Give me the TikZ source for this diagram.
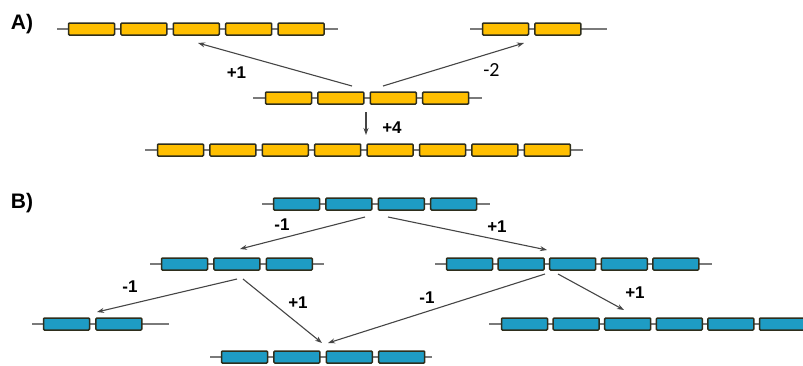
\documentclass[tikz,border=0pt]{standalone}
\usepackage{fontspec}
\setmainfont{Liberation Sans}
\newfontfamily\calib{Carlito}
\usetikzlibrary{arrows.meta}
\definecolor{geneorange}{HTML}{FFBF00}
\definecolor{geneblue}{HTML}{1E9CC4}
\definecolor{geneedge}{HTML}{2E2E1C}
\definecolor{linkgray}{HTML}{7A7A7A}
\definecolor{arrowgray}{HTML}{454545}
\tikzset{
  gene/.style={draw=geneedge, line width=1.5pt, rounded corners=1pt,
    minimum width=46pt, minimum height=12pt, inner sep=0pt},
  linkline/.style={draw=linkgray, line width=1.2pt},
  evo/.style={draw=arrowgray, line width=1.1pt,
    -{Stealth[length=7pt,width=5pt]}},
  lbl/.style={font=\fontsize{17}{17}\selectfont\bfseries, text=black, inner sep=0pt},
  lblc/.style={font=\calib\fontsize{20}{20}\selectfont, text=black, inner sep=0pt},
  panel/.style={font=\fontsize{21}{21}\selectfont\bfseries, text=black, inner sep=0pt}
}
% #1 name, #2 colour, #3 line start, #4 first box left, #5 count, #6 y, #7 line end, #8 pitch
\newcommand\genechain[8]{%
  \draw[linkline] (#3,#6) -- (#7,#6);
  \foreach \i in {1,...,#5}{%
    \node[gene, fill=#2] (#1-\i) at ({#4+23.5+(\i-1)*#8},#6) {};
  }%
}
\begin{document}
\begin{tikzpicture}[x=1pt,y=-1pt]
\useasboundingbox (0,0) rectangle (803,365);
\clip (0,0) rectangle (803,365);
% panel A
\node[panel] (pa) at (22,24) {A)};
\genechain{aone}{geneorange}{57}{68}{5}{29}{338}{52.4}
\genechain{atwo}{geneorange}{470}{482}{2}{29}{607}{52.4}
\genechain{athree}{geneorange}{253}{265}{4}{98}{482}{52.4}
\genechain{afour}{geneorange}{145}{157}{8}{150}{583}{52.4}
\coordinate (a1s) at (352,86);
\coordinate (a1e) at (198,43);
\coordinate (a2s) at (383,86);
\coordinate (a2e) at (524,43);
\coordinate (a3s) at (366,112);
\coordinate (a3e) at (366,135);
\draw[evo] (a1s) -- (a1e);
\draw[evo] (a2s) -- (a2e);
\draw[evo] (a3s) -- (a3e);
\node[lbl] (la1) at (236.5,72.5) {+1};
\node[lblc] (la2) at (491.5,70) {-2};
\node[lbl] (la3) at (392,128) {+4};
% panel B
\node[panel] (pb) at (22,203) {B)};
\genechain{bone}{geneblue}{262}{273}{4}{204}{490}{52.4}
\genechain{btwo}{geneblue}{150}{161}{3}{264}{324}{52.4}
\genechain{bthree}{geneblue}{435}{446}{5}{264}{712}{51.6}
\genechain{bfour}{geneblue}{32}{43}{2}{324}{169}{52.4}
\genechain{bfive}{geneblue}{210}{221}{4}{357}{432}{52.4}
\genechain{bsix}{geneblue}{489}{501}{6}{324}{815}{51.6}
\coordinate (b1s) at (365,217);
\coordinate (b1e) at (240,249);
\coordinate (b2s) at (388,217);
\coordinate (b2e) at (547,250);
\coordinate (b3s) at (237,279);
\coordinate (b3e) at (97,312);
\coordinate (b4s) at (243,279);
\coordinate (b4e) at (322,343);
\coordinate (b5s) at (545,274);
\coordinate (b5e) at (328,343);
\coordinate (b6s) at (558,274);
\coordinate (b6e) at (624,310);
\draw[evo] (b1s) -- (b1e);
\draw[evo] (b2s) -- (b2e);
\draw[evo] (b3s) -- (b3e);
\draw[evo] (b4s) -- (b4e);
\draw[evo] (b5s) -- (b5e);
\draw[evo] (b6s) -- (b6e);
\node[lbl] (lb1) at (282,225) {-1};
\node[lbl] (lb2) at (497,227) {+1};
\node[lbl] (lb3) at (130,287) {-1};
\node[lbl] (lb4) at (298,303) {+1};
\node[lbl] (lb5) at (427,298) {-1};
\node[lbl] (lb6) at (635,293) {+1};
\end{tikzpicture}
\end{document}
